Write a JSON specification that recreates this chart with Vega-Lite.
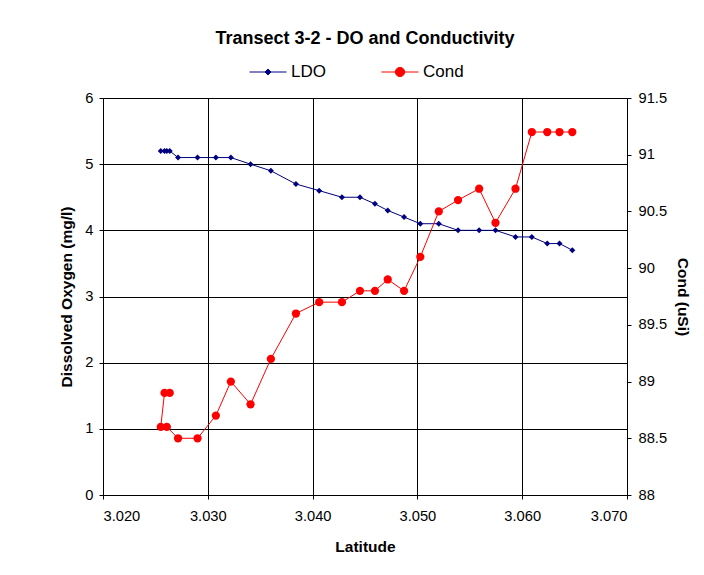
{
  "$schema": "https://vega.github.io/schema/vega-lite/v6.json",
  "width": 524,
  "height": 397,
  "autosize": {"type": "none"},
  "padding": {"left": 103, "top": 98, "right": 77, "bottom": 80},
  "background": "white",
  "title": {
    "text": "Transect 3-2 - DO and Conductivity",
    "font": "Liberation Sans",
    "fontSize": 18,
    "fontWeight": "bold",
    "color": "#000000",
    "anchor": "middle",
    "baseline": "alphabetic",
    "offset": -9
  },
  "config": {
    "view": {"stroke": null},
    "font": "Liberation Sans",
    "axis": {
      "labelFont": "Liberation Sans",
      "labelFontSize": 14.7,
      "labelColor": "#000000",
      "titleFont": "Liberation Sans",
      "titleFontSize": 15.5,
      "titleFontWeight": "bold",
      "titleColor": "#000000",
      "domainColor": "#000000",
      "domainWidth": 1,
      "tickColor": "#000000",
      "tickSize": 4,
      "tickWidth": 1,
      "gridColor": "#000000",
      "gridOpacity": 1,
      "gridWidth": 1
    }
  },
  "data": {
    "values": [
      {"seq": 1, "lat": 3.02637, "ldo": 5.2, "cond": 88.9},
      {"seq": 2, "lat": 3.02587, "ldo": 5.2, "cond": 88.9},
      {"seq": 3, "lat": 3.02551, "ldo": 5.2, "cond": 88.6},
      {"seq": 4, "lat": 3.02609, "ldo": 5.2, "cond": 88.6},
      {"seq": 5, "lat": 3.02716, "ldo": 5.1, "cond": 88.5},
      {"seq": 6, "lat": 3.02902, "ldo": 5.1, "cond": 88.5},
      {"seq": 7, "lat": 3.03077, "ldo": 5.1, "cond": 88.7},
      {"seq": 8, "lat": 3.0322, "ldo": 5.1, "cond": 89.0},
      {"seq": 9, "lat": 3.03408, "ldo": 5.0, "cond": 88.8},
      {"seq": 10, "lat": 3.03602, "ldo": 4.9, "cond": 89.2},
      {"seq": 11, "lat": 3.03841, "ldo": 4.7, "cond": 89.6},
      {"seq": 12, "lat": 3.04063, "ldo": 4.6, "cond": 89.7},
      {"seq": 13, "lat": 3.0428, "ldo": 4.5, "cond": 89.7},
      {"seq": 14, "lat": 3.04452, "ldo": 4.5, "cond": 89.8},
      {"seq": 15, "lat": 3.04595, "ldo": 4.4, "cond": 89.8},
      {"seq": 16, "lat": 3.04717, "ldo": 4.3, "cond": 89.9},
      {"seq": 17, "lat": 3.04873, "ldo": 4.2, "cond": 89.8},
      {"seq": 18, "lat": 3.05028, "ldo": 4.1, "cond": 90.1},
      {"seq": 19, "lat": 3.05204, "ldo": 4.1, "cond": 90.5},
      {"seq": 20, "lat": 3.05388, "ldo": 4.0, "cond": 90.6},
      {"seq": 21, "lat": 3.05589, "ldo": 4.0, "cond": 90.7},
      {"seq": 22, "lat": 3.05745, "ldo": 4.0, "cond": 90.4},
      {"seq": 23, "lat": 3.05936, "ldo": 3.9, "cond": 90.7},
      {"seq": 24, "lat": 3.06092, "ldo": 3.9, "cond": 91.2},
      {"seq": 25, "lat": 3.06239, "ldo": 3.8, "cond": 91.2},
      {"seq": 26, "lat": 3.06356, "ldo": 3.8, "cond": 91.2},
      {"seq": 27, "lat": 3.06478, "ldo": 3.7, "cond": 91.2}
    ]
  },
  "encoding": {
    "x": {
      "field": "lat",
      "type": "quantitative",
      "scale": {"domain": [3.02, 3.07], "nice": false, "zero": false},
      "axis": {
        "values": [3.02, 3.03, 3.04, 3.05, 3.06, 3.07],
        "format": ".3f",
        "title": "Latitude",
        "grid": true,
        "labelPadding": 9,
        "titlePadding": 17
      }
    }
  },
  "layer": [
    {
      "encoding": {
        "y": {
          "field": "ldo",
          "type": "quantitative",
          "scale": {"domain": [0, 6], "nice": false},
          "axis": {
            "orient": "left",
            "values": [0, 1, 2, 3, 4, 5, 6],
            "title": "Dissolved Oxygen (mg/l)",
            "grid": true,
            "labelPadding": 6,
            "titlePadding": 10
          }
        }
      },
      "layer": [
        {"mark": {"type": "line", "color": "#000080", "strokeWidth": 1}, "encoding": {}},
        {
          "mark": {"type": "point", "shape": "diamond", "filled": true, "size": 36, "opacity": 1},
          "encoding": {
            "fill": {
              "datum": "LDO",
              "scale": {"domain": ["LDO", "Cond"], "range": ["#000080", "#FF0000"]},
              "legend": {
                "orient": "none",
                "legendX": 146,
                "legendY": -45,
                "direction": "horizontal",
                "title": null,
                "padding": 0,
                "labelFont": "Liberation Sans",
                "labelFontSize": 17,
                "labelColor": "#000000",
                "labelOffset": 4,
                "columnPadding": 53,
                "symbolSize": 1369,
                "symbolType": {"expr": "datum.value === 'LDO' ? 'M-1,0L1,0M-0.16,0L0,-0.16L0.16,0L0,0.16Z' : 'M-1,0L1,0M0.25,0A0.25,0.25,0,1,1,-0.25,0A0.25,0.25,0,1,1,0.25,0Z'"},
                "symbolStrokeColor": {"expr": "datum.value === 'LDO' ? '#000080' : '#FF0000'"},
                "symbolStrokeWidth": 1,
                "symbolOpacity": 1
              }
            }
          }
        }
      ]
    },
    {
      "encoding": {
        "y": {
          "field": "cond",
          "type": "quantitative",
          "scale": {"domain": [88, 91.5], "nice": false, "zero": false},
          "axis": {
            "orient": "right",
            "values": [88, 88.5, 89, 89.5, 90, 90.5, 91, 91.5],
            "format": "~g",
            "title": "Cond (uSi)",
            "grid": false,
            "labelPadding": 7,
            "titlePadding": 8
          }
        }
      },
      "layer": [
        {
          "mark": {"type": "line", "color": "#FF0000", "strokeWidth": 1},
          "encoding": {"order": {"field": "seq", "type": "quantitative"}}
        },
        {
          "mark": {"type": "point", "shape": "circle", "filled": true, "size": 68, "opacity": 1, "color": "#FF0000"},
          "encoding": {}
        }
      ]
    }
  ],
  "resolve": {"scale": {"y": "independent"}}
}
